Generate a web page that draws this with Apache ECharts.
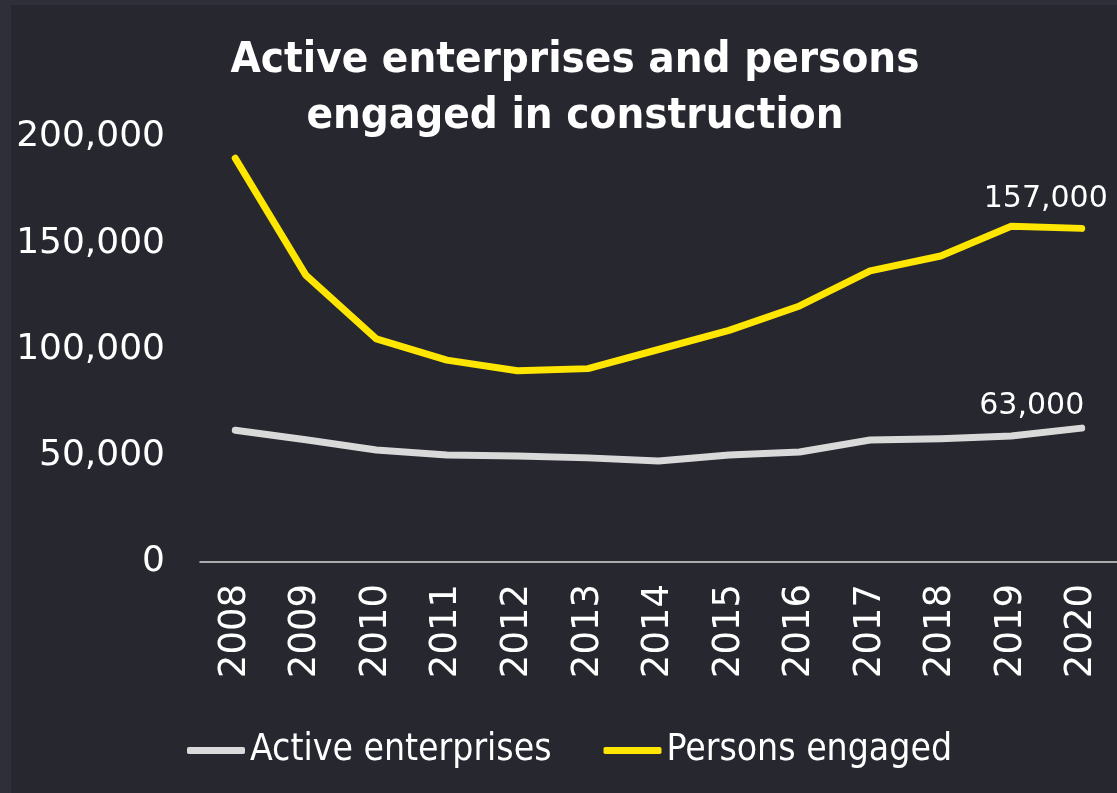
<!DOCTYPE html>
<html><head><meta charset="utf-8">
<script src="https://cdn.jsdelivr.net/npm/echarts@6/dist/echarts.min.js"></script>
<style>html,body{margin:0;padding:0;background:#26272f;}#c{width:1117px;height:793px;}</style>
</head><body><div id="c"></div>
<script>
const years = ['2008','2009','2010','2011','2012','2013','2014','2015','2016','2017','2018','2019','2020'];
const activeEnterprises = [62000,57500,52700,50400,49900,49000,47500,50400,51800,57400,58000,59300,63000];
const personsEngaged = [190000,135000,105000,95000,90000,91000,100000,109000,120500,137000,144000,158000,157000];
const yTicks = [0,50000,100000,150000,200000];
const fmt = v => v.toLocaleString('en-US');
function withEndLabel(arr, off){
  return arr.map((v,i)=> i===arr.length-1 ? {value:v,label:{show:true,position:'top',distance:0,offset:off,formatter:p=>fmt(p.value),color:'#ffffff',fontSize:30,fontFamily:'DejaVu Sans'}} : v);
}
const chart = echarts.init(document.getElementById('c'));
chart.setOption({
  backgroundColor:'#26272f',
  animation:false,
  graphic:[
    {type:'rect',left:0,top:0,shape:{width:1117,height:5},style:{fill:'#2e2f38'}},
    {type:'rect',left:0,top:0,shape:{width:11,height:793},style:{fill:'#2e2f38'}}
  ],
  title:{text:'Active enterprises and persons\nengaged in construction',left:570,top:28,textAlign:'center',
    textStyle:{color:'#ffffff',fontSize:43.5,fontWeight:'bold',fontFamily:'DejaVu Sans Condensed',lineHeight:56}},
  legend:{left:182,top:727,itemWidth:58,itemHeight:7,itemGap:52,icon:'roundRect',
    textStyle:{color:'#ffffff',fontSize:37,fontFamily:'DejaVu Sans Condensed'},
    data:['Active enterprises','Persons engaged']},
  grid:{left:200,right:-5,top:137,bottom:231},
  xAxis:{type:'category',data:years,boundaryGap:true,
    axisLine:{lineStyle:{color:'#d9d9d9',width:1.5}},axisTick:{show:false},
    axisLabel:{rotate:90,color:'#ffffff',fontSize:37,fontFamily:'DejaVu Sans',margin:22}},
  yAxis:{type:'value',min:0,max:200000,interval:50000,splitLine:{show:false},axisLine:{show:false},axisTick:{show:false},
    axisLabel:{color:'#ffffff',fontSize:36,fontFamily:'DejaVu Sans',margin:35,formatter:v=>fmt(v)}},
  series:[
    {name:'Active enterprises',type:'line',data:withEndLabel(activeEnterprises,[-50,-7]),showSymbol:true,symbol:'circle',symbolSize:0,
      lineStyle:{color:'#d9d9d9',width:7,cap:'round',join:'round'},itemStyle:{color:'#d9d9d9'}},
    {name:'Persons engaged',type:'line',data:withEndLabel(personsEngaged,[-36,-14]),showSymbol:true,symbol:'circle',symbolSize:0,
      lineStyle:{color:'#ffe600',width:7,cap:'round',join:'round'},itemStyle:{color:'#ffe600'}}
  ]
});
</script></body></html>
